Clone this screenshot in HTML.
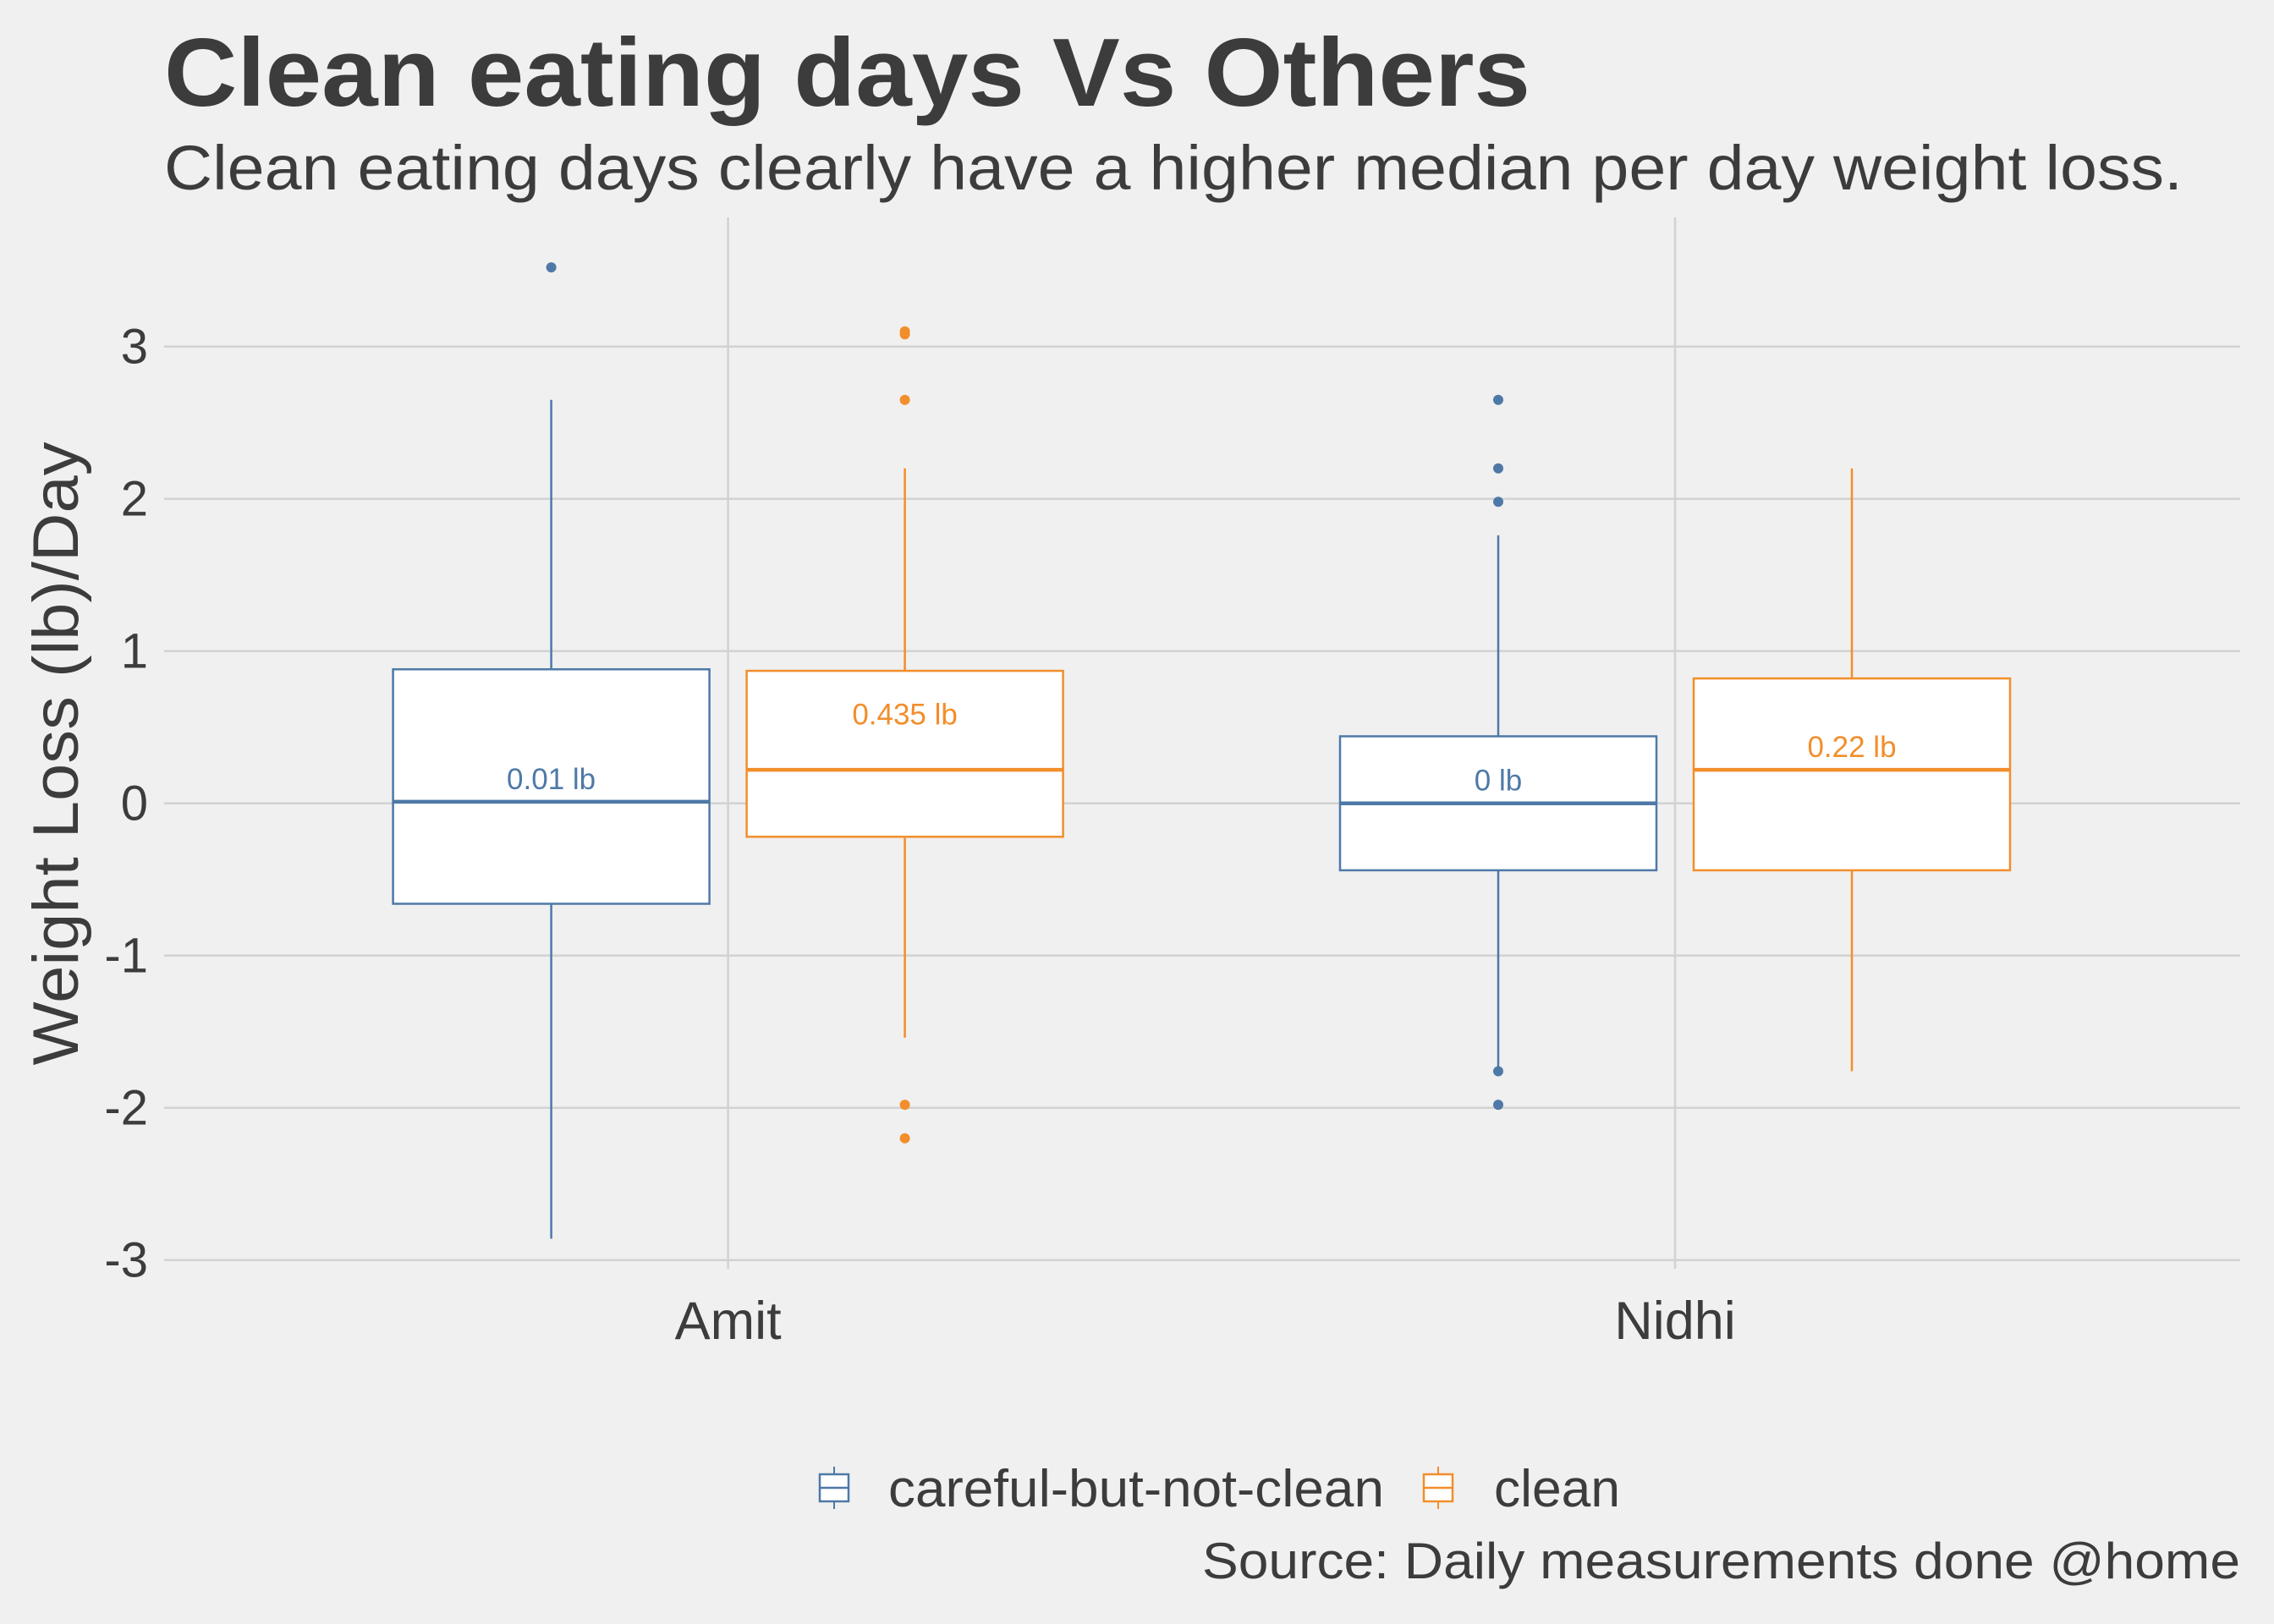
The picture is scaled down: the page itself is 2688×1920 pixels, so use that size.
<!DOCTYPE html>
<html><head><meta charset="utf-8"><style>
html,body{margin:0;padding:0;background:#f0f0f0;}
svg{display:block;font-family:"Liberation Sans",Arial,sans-serif;}
</style></head><body>
<svg id="chart" width="2688" height="1920" viewBox="0 0 2688 1920" xmlns="http://www.w3.org/2000/svg">
<rect width="2688" height="1920" fill="#f0f0f0"/>
<text x="194" y="125" font-size="114" font-weight="bold" fill="#3c3c3c" textLength="1615" lengthAdjust="spacingAndGlyphs">Clean eating days Vs Others</text>
<text x="194" y="224" font-size="74" fill="#3c3c3c" textLength="2386" lengthAdjust="spacingAndGlyphs">Clean eating days clearly have a higher median per day weight loss.</text>
<g id="grid"></g>
<g id="marks"></g>
<text transform="translate(92,891) rotate(-90)" text-anchor="middle" font-size="76" fill="#3c3c3c" textLength="737" lengthAdjust="spacingAndGlyphs">Weight Loss (lb)/Day</text>
<g>
<g>
<line x1="986" y1="1734" x2="986" y2="1784" stroke="#4e79a7" stroke-width="2"/>
<rect x="969" y="1743" width="34" height="32" fill="#fff" stroke="#4e79a7" stroke-width="2.5"/>
<line x1="969" y1="1759" x2="1003" y2="1759" stroke="#4e79a7" stroke-width="2.5"/>
<text x="1050" y="1781" font-size="62" fill="#3c3c3c" textLength="586" lengthAdjust="spacingAndGlyphs">careful-but-not-clean</text>
</g>
<g>
<line x1="1700" y1="1734" x2="1700" y2="1784" stroke="#f28e2b" stroke-width="2"/>
<rect x="1683" y="1743" width="34" height="32" fill="#fff" stroke="#f28e2b" stroke-width="2.5"/>
<line x1="1683" y1="1759" x2="1717" y2="1759" stroke="#f28e2b" stroke-width="2.5"/>
<text x="1766" y="1781" font-size="62" fill="#3c3c3c" textLength="149" lengthAdjust="spacingAndGlyphs">clean</text>
</g>
</g>
<text x="2648" y="1866" text-anchor="end" font-size="60" fill="#3c3c3c" textLength="1227" lengthAdjust="spacingAndGlyphs">Source: Daily measurements done @home</text>
</svg>
<script>
const categories = ["Amit", "Nidhi"];
const groups = ["careful-but-not-clean", "clean"];
const yTicks = [3, 2, 1, 0, -1, -2, -3];
const yTickLabels = ["3", "2", "1", "0", "-1", "-2", "-3"];
// per box order: Amit-careful, Amit-clean, Nidhi-careful, Nidhi-clean
const whiskerLow = [-2.86, -1.54, -1.76, -1.76];
const q1 = [-0.66, -0.22, -0.44, -0.44];
const medians = [0.01, 0.22, 0.0, 0.22];
const q3 = [0.88, 0.87, 0.44, 0.82];
const whiskerHigh = [2.65, 2.2, 1.76, 2.2];
const outliers = [[3.52], [3.1, 3.08, 2.65, -1.98, -2.2], [2.65, 2.2, 1.98, -1.76, -1.98], []];
const labelValues = [0.01, 0.435, 0, 0.22];
const labelTexts = ["0.01 lb", "0.435 lb", "0 lb", "0.22 lb"];

const NS = "http://www.w3.org/2000/svg";
const colors = ["#4e79a7", "#f28e2b"];
const panel = {left: 194, right: 2648, top: 257, bottom: 1500};
function y(v){ return 949.7 - v * 180; }
function xCat(i){ return 860.6 + i * 1119.4; }
const dodge = 209, boxW = 374;
function mk(tag, attrs, parent){
  const e = document.createElementNS(NS, tag);
  for (const k in attrs) e.setAttribute(k, attrs[k]);
  parent.appendChild(e); return e;
}
const grid = document.getElementById("grid");
const marks = document.getElementById("marks");
yTicks.forEach((t, i) => {
  const l = mk("line", {x1: panel.left, x2: panel.right, y1: y(t), y2: y(t), stroke: "#d2d2d2", "stroke-width": 2.5}, grid);
  
  
  const tx = mk("text", {x: 175, y: y(t) + 20, "text-anchor": "end", "font-size": 58, fill: "#3c3c3c"}, grid);
  tx.textContent = yTickLabels[i];
  
  
});
categories.forEach((c, i) => {
  const l = mk("line", {x1: xCat(i), x2: xCat(i), y1: panel.top, y2: panel.bottom, stroke: "#d2d2d2", "stroke-width": 2.5}, grid);
  
  
  const tx = mk("text", {x: xCat(i), y: 1583, "text-anchor": "middle", "font-size": 63, fill: "#3c3c3c"}, grid);
  tx.textContent = c;
  
  
});
for (let b = 0; b < 4; b++) {
  const ci = Math.floor(b / 2), gi = b % 2, col = colors[gi];
  const cx = xCat(ci) + (gi === 0 ? -dodge : dodge);
  const g = mk("g", {}, marks);
  
  
  mk("line", {x1: cx, x2: cx, y1: y(whiskerHigh[b]), y2: y(q3[b]), stroke: col, "stroke-width": 2.5}, g);
  mk("line", {x1: cx, x2: cx, y1: y(q1[b]), y2: y(whiskerLow[b]), stroke: col, "stroke-width": 2.5}, g);
  mk("rect", {x: cx - boxW / 2, y: y(q3[b]), width: boxW, height: y(q1[b]) - y(q3[b]), fill: "#fff", stroke: col, "stroke-width": 2.5}, g);
  mk("line", {x1: cx - boxW / 2, x2: cx + boxW / 2, y1: y(medians[b]), y2: y(medians[b]), stroke: col, "stroke-width": 4.5}, g);
  outliers[b].forEach(v => {
    const p = mk("circle", {cx: cx, cy: y(v), r: 6, fill: col}, g);
    
    
  });
  const lt = mk("text", {x: cx, y: y(labelValues[b] + 0.15) + 12, "text-anchor": "middle", "font-size": 35, fill: col}, g);
  lt.textContent = labelTexts[b];
  
  
}
</script>
</body></html>
